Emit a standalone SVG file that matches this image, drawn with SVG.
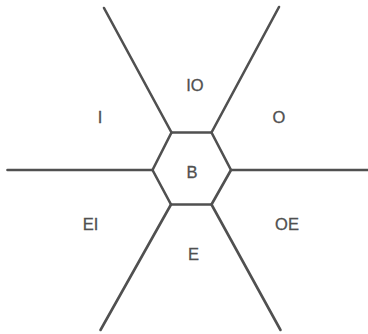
<svg xmlns="http://www.w3.org/2000/svg" width="368" height="334" viewBox="0 0 368 334">
<style>
.ln{stroke:#505050;stroke-width:2.6;fill:none;stroke-linecap:round;stroke-linejoin:round}
.t{font-family:"Liberation Sans",Arial,sans-serif;font-size:16.5px;fill:#505050;stroke:#505050;stroke-width:0.3;text-anchor:middle}
</style>
<rect width="368" height="334" fill="#fff"/>
<g id="connectors">
<line class="ln" x1="171.5" y1="132.5" x2="104" y2="8"/>
<line class="ln" x1="211.5" y1="132.5" x2="279" y2="7"/>
<line class="ln" x1="231" y1="170" x2="368" y2="170"/>
<line class="ln" x1="152.5" y1="170" x2="7.5" y2="170"/>
<line class="ln" x1="171" y1="204.5" x2="100.5" y2="330"/>
<line class="ln" x1="211.5" y1="204.5" x2="280.5" y2="330"/>
</g>
<g id="B">
<polygon class="ln" points="171.5,132.5 211.5,132.5 231,170 211.5,204.5 171,204.5 152.5,170"/>
<text class="t" x="192" y="178">B</text>
</g>
<g id="IO"><text class="t" x="195" y="90.5">IO</text></g>
<g id="I"><text class="t" x="100" y="122.5">I</text></g>
<g id="O"><text class="t" x="279" y="122.5">O</text></g>
<g id="EI"><text class="t" x="90.5" y="230">EI</text></g>
<g id="OE"><text class="t" x="287" y="230">OE</text></g>
<g id="E"><text class="t" x="193.5" y="260">E</text></g>
</svg>
